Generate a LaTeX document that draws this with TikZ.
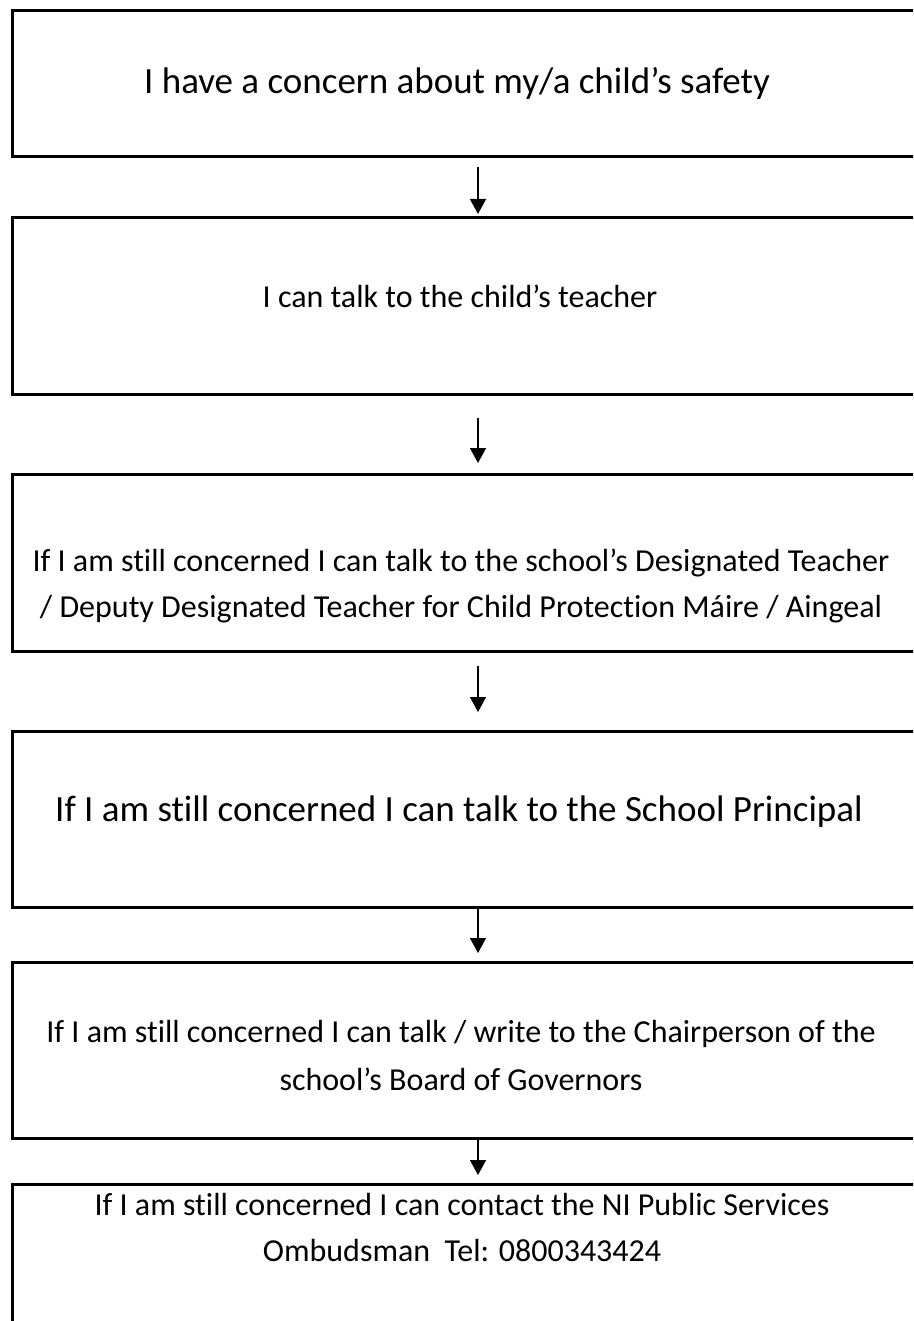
\documentclass[tikz,border=0pt]{standalone}
\usepackage{fontspec}
\setmainfont{Carlito}[Ligatures=NoCommon]
\usetikzlibrary{arrows.meta}
\begin{document}
\begin{tikzpicture}[x=1pt,y=-1pt,
  box/.style={draw=black,line width=2.7pt,anchor=north west,inner sep=0pt,minimum width=930pt},
  txt/.style={anchor=base,inner sep=0pt,font=\fontsize{32}{46}\selectfont},
  bigtxt/.style={txt,font=\fontsize{37}{46}\selectfont},
  arr/.style={line width=1.5pt,-{Triangle[width=16pt,length=15pt]}}]
\useasboundingbox (0,0) rectangle (913,1321);
\clip (0,0) rectangle (913,1321);
% boxes
\node[box,minimum height=146pt] (b1) at (11,9) {};
\node[box,minimum height=177pt] (b2) at (11,216) {};
\node[box,minimum height=177pt] (b3) at (11,473) {};
\node[box,minimum height=176pt] (b4) at (11,730) {};
\node[box,minimum height=176pt] (b5) at (11,961) {};
\node[box,minimum height=300pt] (b6) at (11,1183) {};
% texts
\node[bigtxt] (t1) at (457,94) {I have a concern about my/a child’s safety};
\node[txt] (t2) at (460,308) {I can talk to the child’s teacher};
\node[txt] (t3a) at (461,571) {If I am still concerned I can talk to the school’s Designated Teacher};
\node[txt] (t3b) at (461,617) {/ Deputy Designated Teacher for Child Protection Máire / Aingeal};
\node[bigtxt] (t4) at (459,821) {If I am still concerned I can talk to the School Principal};
\node[txt] (t5a) at (461,1042) {If I am still concerned I can talk / write to the Chairperson of the};
\node[txt] (t5b) at (461,1090) {school’s Board of Governors};
\node[txt] (t6a) at (462,1215) {If I am still concerned I can contact the NI Public Services};
\node[txt] (t6b) at (462,1261) {Ombudsman\ \ Tel: 0800343424};
% arrow ends
\coordinate (a1s) at (478,167); \coordinate (a1e) at (478,214);
\coordinate (a2s) at (478,418); \coordinate (a2e) at (478,463);
\coordinate (a3s) at (478,666); \coordinate (a3e) at (478,712);
\coordinate (a4s) at (478,906); \coordinate (a4e) at (478,953);
\coordinate (a5s) at (478,1137); \coordinate (a5e) at (478,1175);
\draw[arr] (a1s) -- (a1e);
\draw[arr] (a2s) -- (a2e);
\draw[arr] (a3s) -- (a3e);
\draw[arr] (a4s) -- (a4e);
\draw[arr] (a5s) -- (a5e);
\end{tikzpicture}
\end{document}
